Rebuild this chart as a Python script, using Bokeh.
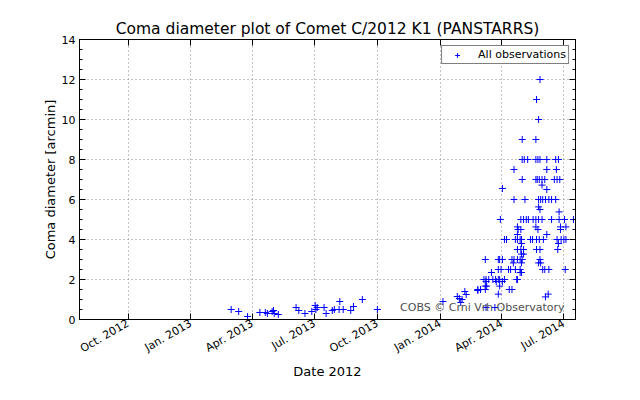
import math
import pandas as pd
from bokeh.plotting import figure
from bokeh.models import (Range1d, FixedTicker, DatetimeAxis, LinearAxis, Label,
                          DatetimeTickFormatter)
from bokeh.embed import file_html
from bokeh.resources import INLINE

FONT = "DejaVu Sans"

# ---------------- data ----------------
dates_2013 = ["2013-03-01", "2013-03-12", "2013-03-25", "2013-04-12", "2013-04-20",
              "2013-04-23", "2013-04-30", "2013-05-02", "2013-05-03", "2013-05-09",
              "2013-06-04", "2013-06-08", "2013-06-17", "2013-06-27", "2013-07-02",
              "2013-07-03", "2013-07-05", "2013-07-15", "2013-07-18", "2013-07-27",
              "2013-07-30", "2013-08-06", "2013-08-07", "2013-08-12", "2013-08-23",
              "2013-08-27", "2013-09-09", "2013-10-01"]
diam_2013 = [0.5, 0.4, 0.15, 0.35, 0.35,
             0.3, 0.4, 0.45, 0.3, 0.25,
             0.6, 0.45, 0.3, 0.4, 0.7,
             0.5, 0.6, 0.6, 0.3, 0.45,
             0.5, 0.5, 0.9, 0.5, 0.45,
             0.65, 1.0, 0.5]

dates_2014 = [
    "2014-01-05", "2014-01-26", "2014-01-29", "2014-01-31", "2014-02-02", "2014-02-06", "2014-02-08", "2014-02-25", "2014-02-25", "2014-03-01",
    "2014-05-27", "2014-05-22", "2014-05-25", "2014-05-01", "2014-05-21",
    "2014-05-01", "2014-05-04", "2014-05-09", "2014-05-21", "2014-05-24", "2014-05-27", "2014-06-06", "2014-06-19", "2014-06-23",
    "2014-04-19", "2014-06-06", "2014-06-20",
    "2014-05-01", "2014-05-21", "2014-05-23", "2014-05-26", "2014-05-30", "2014-06-03", "2014-06-17", "2014-06-21", "2014-06-25",
    "2014-05-30", "2014-06-06", "2014-04-02",
    "2014-04-19", "2014-05-05", "2014-05-25", "2014-05-28", "2014-05-31", "2014-06-04", "2014-06-09", "2014-06-13", "2014-06-19",
    "2014-05-25", "2014-05-27", "2014-06-24",
    "2014-03-30", "2014-04-29", "2014-05-03", "2014-05-07", "2014-05-10", "2014-05-17", "2014-05-21", "2014-05-25", "2014-05-30", "2014-06-13", "2014-06-24", "2014-07-02", "2014-07-15",
    "2014-04-24", "2014-05-21", "2014-06-26", "2014-07-04",
    "2014-04-25", "2014-04-29", "2014-05-24", "2014-06-26",
    "2014-06-06", "2014-04-24",
    "2014-04-05", "2014-04-08", "2014-04-21", "2014-04-24", "2014-04-28", "2014-04-30", "2014-05-13", "2014-05-16", "2014-05-22", "2014-05-26", "2014-06-01", "2014-06-21", "2014-06-27", "2014-07-01", "2014-07-04",
    "2014-04-30", "2014-06-23",
    "2014-04-24", "2014-04-29", "2014-05-03", "2014-05-22", "2014-05-27", "2014-06-22",
    "2014-04-30", "2014-05-03",
    "2014-03-08", "2014-03-27", "2014-03-29", "2014-04-02", "2014-04-16", "2014-04-19", "2014-04-24", "2014-04-28", "2014-05-01", "2014-05-27",
    "2014-04-18", "2014-04-30", "2014-05-25", "2014-05-28",
    "2014-03-27", "2014-03-31", "2014-04-11", "2014-04-14", "2014-04-21", "2014-04-28", "2014-05-31", "2014-06-03", "2014-06-09", "2014-07-03",
    "2014-04-28", "2014-04-30", "2014-03-17",
    "2014-03-06", "2014-03-09", "2014-03-13", "2014-03-19", "2014-03-23", "2014-03-27", "2014-03-29", "2014-04-05", "2014-04-23", "2014-04-24",
    "2014-03-09", "2014-03-24", "2014-04-02",
    "2014-03-08", "2014-03-10", "2014-03-29",
    "2014-03-01", "2014-03-08", "2014-04-12", "2014-04-16",
    "2014-03-27", "2014-06-08", "2014-06-04",
    "2014-03-09", "2014-03-22",
]
diam_2014 = [
    0.9, 1.15, 1.05, 0.85, 1.0, 1.4, 1.25, 1.5, 1.45, 1.5,
    12.0, 11.0, 10.0, 9.0, 9.0,
    8.0, 8.0, 8.0, 8.0, 8.0, 8.0, 8.0, 8.0, 8.0,
    7.5, 7.5, 7.5,
    7.0, 7.0, 7.0, 7.0, 7.0, 7.0, 7.0, 7.0, 7.0,
    6.72, 6.5, 6.55,
    6.0, 6.0, 6.0, 6.0, 6.0, 6.0, 6.0, 6.0, 6.0,
    5.63, 5.5, 5.38,
    5.0, 5.0, 5.0, 5.0, 5.0, 5.0, 5.0, 5.0, 5.0, 5.0, 5.0, 5.0, 5.0,
    4.63, 4.63, 4.63, 4.63,
    4.5, 4.5, 4.5, 4.5,
    4.25, 4.25,
    4.0, 4.0, 4.0, 4.0, 4.0, 4.0, 4.0, 4.0, 4.0, 4.0, 4.0, 4.0, 4.0, 4.0, 4.0,
    3.8, 3.8,
    3.5, 3.5, 3.5, 3.5, 3.5, 3.5,
    3.27, 3.27,
    3.0, 3.0, 3.0, 3.0, 3.0, 3.0, 3.0, 3.0, 3.0, 3.0,
    2.83, 2.83, 2.83, 2.83,
    2.5, 2.5, 2.5, 2.5, 2.5, 2.5, 2.5, 2.5, 2.5, 2.5,
    2.35, 2.35, 2.35,
    2.0, 2.0, 2.0, 2.0, 2.0, 2.0, 2.0, 2.0, 2.0, 2.0,
    1.9, 1.9, 1.9,
    1.67, 1.67, 1.67,
    1.5, 1.5, 1.5, 1.5,
    1.27, 1.27, 1.13,
    0.6, 0.6,
]

x_tick_dates = ["2012-10-01", "2013-01-01", "2013-04-01", "2013-07-01",
                "2013-10-01", "2014-01-01", "2014-04-01", "2014-07-01"]
x_tick_labels = ["Oct. 2012", "Jan. 2013", "Apr. 2013", "Jul. 2013",
                 "Oct. 2013", "Jan. 2014", "Apr. 2014", "Jul. 2014"]
y_ticks = [0, 2, 4, 6, 8, 10, 12, 14]
y_minor_ticks = [i * 0.5 for i in range(29)]

x_start, x_end = "2012-07-22", "2014-07-18"
credit_text = "COBS © Crni Vrh Observatory"

# ---------------- figure ----------------
obs_x = pd.to_datetime(dates_2013 + dates_2014)
obs_y = diam_2013 + diam_2014

def ms(d):
    return float(pd.Timestamp(d).value // 10**6)

tick_ms = [ms(d) for d in x_tick_dates]

p = figure(width=632, height=392, x_axis_type="datetime",
           output_backend="svg", toolbar_location=None,
           x_range=Range1d(start=ms(x_start), end=ms(x_end)),
           y_range=Range1d(start=0, end=14),
           min_border_left=79, min_border_right=57,
           min_border_top=39, min_border_bottom=73,
           background_fill_color="white", border_fill_color="white")

p.title.text = "Coma diameter plot of Comet C/2012 K1 (PANSTARRS)"
p.title.align = "center"
p.title.text_font = FONT
p.title.text_font_size = "15.5px"
p.title.text_font_style = "normal"
p.title.text_color = "black"
p.title.standoff = 3

p.outline_line_color = "black"
p.outline_line_width = 1
p.outline_line_alpha = 1

xticker = FixedTicker(ticks=tick_ms)
yticker = FixedTicker(ticks=y_ticks, minor_ticks=y_minor_ticks)

xa = p.xaxis[0]
ya = p.yaxis[0]
xa.ticker = xticker
ya.ticker = yticker
xa.formatter = DatetimeTickFormatter(days="%b. %Y", months="%b. %Y", years="%b. %Y")
xa.major_label_overrides = {t: lab for t, lab in zip(tick_ms, x_tick_labels)}
xa.major_label_orientation = math.pi / 6
xa.axis_label = "Date 2012"
ya.axis_label = "Coma diameter [arcmin]"
xa.minor_tick_line_color = None

for ax in (xa, ya):
    ax.axis_line_color = "black"
    ax.major_tick_in = 6
    ax.major_tick_out = 0
    ax.minor_tick_in = 3
    ax.minor_tick_out = 0
    ax.major_tick_line_color = "black"
    ax.major_label_text_font = FONT
    ax.major_label_text_font_size = "11px"
    ax.major_label_text_color = "black"
    ax.axis_label_text_font = FONT
    ax.axis_label_text_font_size = "13px"
    ax.axis_label_text_font_style = "normal"
    ax.axis_label_text_color = "black"

xa.major_label_standoff = 3
xa.axis_label_standoff = 0
ya.major_label_standoff = 4
ya.axis_label_standoff = 1

p.xgrid.ticker = xticker
p.ygrid.ticker = yticker
p.grid.grid_line_color = "#888888"
p.grid.grid_line_dash = "1 3"
p.grid.grid_line_width = 1

# mirrored tick marks on top and right (labels not drawn)
ra = LinearAxis(ticker=yticker, major_label_text_color=None,
                major_tick_in=6, major_tick_out=0, minor_tick_in=3, minor_tick_out=0,
                axis_line_color="black", major_label_standoff=0)
p.add_layout(ra, "right")
ta = DatetimeAxis(ticker=xticker, major_label_text_color=None,
                  major_tick_in=6, major_tick_out=0, minor_tick_line_color=None,
                  axis_line_color="black", major_label_standoff=0)
p.add_layout(ta, "above")

r = p.scatter(x=obs_x, y=obs_y, marker="cross", size=7,
              line_color="#0000ff", line_width=1,
              legend_label="All observations")

lg = p.legend[0]
lg.location = "top_right"
lg.label_text_font = FONT
lg.label_text_font_size = "11px"
lg.label_text_color = "black"
lg.border_line_color = "black"
lg.border_line_width = 1
lg.background_fill_color = "white"
lg.background_fill_alpha = 1
lg.margin = 6
lg.padding = 2
lg.spacing = 0
lg.glyph_width = 26
lg.glyph_height = 12
lg.label_height = 12
lg.label_standoff = 8

p.add_layout(Label(x=ms("2014-07-02"), y=0.6, text=credit_text,
                   text_align="right", text_baseline="middle",
                   text_font=FONT, text_font_size="11px",
                   text_color="#505050"))

open("out.html", "w").write(file_html(p, INLINE))
